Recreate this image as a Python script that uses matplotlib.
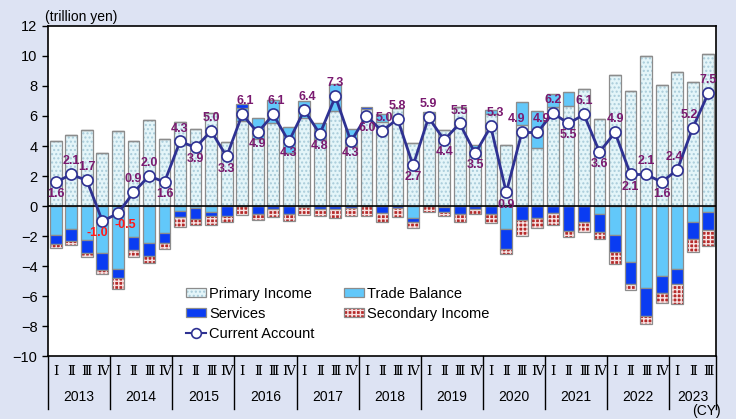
import numpy as np
import matplotlib
matplotlib.use("Agg")
import matplotlib.pyplot as plt
from matplotlib.patches import Patch
from matplotlib.lines import Line2D
from matplotlib.legend_handler import HandlerTuple
import matplotlib.transforms as mtransforms

plt.rcParams['font.family'] = ['Liberation Sans', 'DejaVu Sans']

years = ['2013', '2014', '2015', '2016', '2017', '2018', '2019', '2020', '2021', '2022', '2023']
quarters = ['Ⅰ', 'Ⅱ', 'Ⅲ', 'Ⅳ']
quarters_per_year = [4, 4, 4, 4, 4, 4, 4, 4, 4, 4, 3]

primary_income = [4.35, 4.71, 5.08, 3.51,
                  4.98, 4.30, 5.73, 4.45,
                  5.62, 5.13, 6.20, 4.28,
                  5.67, 4.45, 5.56, 3.56,
                  5.89, 4.45, 6.34, 4.00,
                  6.44, 5.60, 6.55, 4.18,
                  6.10, 5.06, 6.60, 3.73,
                  6.11, 4.06, 5.40, 3.84,
                  6.62, 6.66, 7.78, 5.78,
                  8.73, 7.69, 10.02, 8.09,
                  8.91, 8.24, 10.13]
trade_balance = [-1.93, -1.56, -2.29, -3.16,
                 -4.22, -2.09, -2.47, -1.78,
                 -0.36, -0.15, -0.42, 0.00,
                 0.89, 1.44, 1.51, 1.73,
                 1.11, 1.11, 1.78, 1.11,
                 0.00, 0.50, 0.00, -0.82,
                 0.15, -0.10, 0.00, 0.33,
                 0.29, -1.56, 1.50, 2.49,
                 0.85, 0.96, 0.00, -0.53,
                 -1.93, -3.76, -5.49, -4.67,
                 -4.22, -1.09, -0.38]
services = [-0.60, -0.75, -0.87, -1.11,
            -0.60, -0.87, -0.86, -0.67,
            -0.35, -0.69, -0.25, -0.64,
            0.22, -0.55, -0.20, -0.56,
            -0.05, -0.22, -0.22, -0.16,
            0.18, -0.49, -0.15, -0.27,
            -0.02, -0.27, -0.55, -0.22,
            -0.56, -1.33, -0.93, -0.82,
            -0.49, -1.65, -1.09, -1.18,
            -1.16, -1.47, -1.82, -1.11,
            -1.00, -1.11, -1.22]
secondary_income = [-0.27, -0.29, -0.22, -0.26,
                    -0.69, -0.46, -0.49, -0.42,
                    -0.67, -0.43, -0.57, -0.43,
                    -0.62, -0.40, -0.55, -0.44,
                    -0.56, -0.44, -0.56, -0.51,
                    -0.67, -0.58, -0.60, -0.40,
                    -0.38, -0.29, -0.50, -0.29,
                    -0.56, -0.31, -1.07, -0.67,
                    -0.78, -0.44, -0.62, -0.51,
                    -0.78, -0.38, -0.58, -0.71,
                    -1.31, -0.89, -1.04]
current_account = [1.6, 2.1, 1.7, -1.0,
                   -0.5, 0.9, 2.0, 1.6,
                   4.3, 3.9, 5.0, 3.3,
                   6.1, 4.9, 6.1, 4.3,
                   6.4, 4.8, 7.3, 4.3,
                   6.0, 5.0, 5.8, 2.7,
                   5.9, 4.4, 5.5, 3.5,
                   5.3, 0.9, 4.9, 4.9,
                   6.2, 5.5, 6.1, 3.6,
                   4.9, 2.1, 2.1, 1.6,
                   2.4, 5.2, 7.5]

# label placement (style): 'a' above, 'b' below, plus horizontal nudges in pixels
label_side = ['b', 'a', 'a', 'b',
              'b', 'a', 'a', 'b',
              'a', 'b', 'a', 'b',
              'a', 'b', 'a', 'b',
              'a', 'b', 'a', 'b',
              'b', 'a', 'a', 'b',
              'a', 'b', 'a', 'b',
              'a', 'b', 'a', 'a',
              'a', 'b', 'a', 'b',
              'a', 'b', 'a', 'b',
              'a', 'a', 'a']
label_dx = {3: -5, 4: 7, 12: 3, 14: 3, 16: 3, 20: 1, 21: 2, 28: 5, 30: -5, 31: 4, 40: -3, 41: -3}

W, H = 736, 419
fig = plt.figure(figsize=(W / 100, H / 100), dpi=100)
fig.patch.set_facecolor('#DDE3F3')
ax = fig.add_axes([48 / W, 1 - 356 / H, (716 - 48) / W, (356 - 26) / H])
ax.set_facecolor('white')

n = len(primary_income)
x = np.arange(n)
prim = np.array(primary_income)
tr = np.array(trade_balance)
sv = np.array(services)
sc = np.array(secondary_income)

bw = 0.76
edge = '#8C8C8C'

prim_face, prim_hatch = '#E4F5F9', '#A9CCDA'
trade_face = '#62C8FA'
serv_face = '#0A3CF2'
sec_face, sec_hatch = '#B52A2A', '#F7E2E2'


def draw(bottom, height, face, hatch=None, hcolor=None):
    if hatch:
        ax.bar(x, height, bw, bottom=bottom, color=face, edgecolor=hcolor,
               hatch=hatch, linewidth=0, zorder=2)
        ax.bar(x, height, bw, bottom=bottom, fill=False, edgecolor=edge,
               linewidth=0.9, zorder=2.1)
    else:
        ax.bar(x, height, bw, bottom=bottom, color=face, edgecolor=edge,
               linewidth=0.9, zorder=2)


tr_pos = np.clip(tr, 0, None)
tr_neg = np.clip(tr, None, 0)
sv_pos = np.clip(sv, 0, None)
sv_neg = np.clip(sv, None, 0)

draw(0, prim, prim_face, '....', prim_hatch)
draw(prim, tr_pos, trade_face)
draw(prim + tr_pos, sv_pos, serv_face)
draw(0, tr_neg, trade_face)
draw(tr_neg, sv_neg, serv_face)
draw(tr_neg + sv_neg, sc, sec_face, '++++', sec_hatch)

ax.axhline(0, color='black', lw=1.2, zorder=3)

line_col = '#2E3192'
ax.plot(x, current_account, color=line_col, lw=2, marker='o', ms=8,
        mfc='white', mec=line_col, mew=1.2, zorder=4)

for i, (xi, v, side) in enumerate(zip(x, current_account, label_side)):
    col = '#FF1A1A' if v < 0 else '#7A1A70'
    dy = 13 if side == 'a' else -12
    ax.annotate(f'{v:.1f}', (xi, v), xytext=(label_dx.get(i, 0), dy),
                textcoords='offset pixels', ha='center', va='center',
                fontsize=9, fontweight='bold', color=col, zorder=5)

ax.set_xlim(-0.5, n - 0.5)
ax.set_ylim(-10, 12)
ax.set_yticks(np.arange(-10, 13, 2))
ax.tick_params(axis='y', labelsize=10.5, length=4, direction='out', width=1)
ax.set_xticks([])
for s in ax.spines.values():
    s.set_linewidth(1.2)
    s.set_color('black')

# category axis
trans = mtransforms.blended_transform_factory(ax.transData, ax.transAxes)
axh = 356 - 26
qy = -(371 - 356) / axh
yy = -(397 - 356) / axh
ly = -(409 - 356) / axh
idx = 0
edges = [-0.5]
for yr, nq in zip(years, quarters_per_year):
    for q in range(nq):
        ax.text(idx + q, qy, quarters[q], transform=trans, ha='center', va='center',
                fontsize=9.5, family=['DejaVu Serif', 'Noto Sans CJK JP'], clip_on=False)
    ax.text(idx + (nq - 1) / 2, yy, yr, transform=trans, ha='center', va='center',
            fontsize=10, clip_on=False)
    idx += nq
    edges.append(idx - 0.5)
for e in edges:
    ax.add_line(Line2D([e, e], [0, ly], transform=trans, color='black', lw=1,
                       clip_on=False))

fig.text(45 / W, 1 - 17 / H, '(trillion yen)', fontsize=10, ha='left', va='center')
fig.text(706 / W, 1 - 411 / H, '(CY)', fontsize=10, ha='center', va='center')

# legend
h_prim = (Patch(facecolor=prim_face, edgecolor=prim_hatch, hatch='....', lw=0),
          Patch(fill=False, edgecolor=edge, lw=0.9))
h_trade = Patch(facecolor=trade_face, edgecolor=edge, lw=0.9)
h_serv = Patch(facecolor=serv_face, edgecolor=edge, lw=0.9)
h_sec = (Patch(facecolor=sec_face, edgecolor=sec_hatch, hatch='++++', lw=0),
         Patch(fill=False, edgecolor=edge, lw=0.9))
h_ca = Line2D([], [], color=line_col, lw=1.5, marker='o', ms=7, mfc='white',
              mec=line_col, mew=1.2)
handles = [h_prim, h_serv, h_ca, h_trade, h_sec]
labels = ['Primary Income', 'Services', 'Current Account', 'Trade Balance',
          'Secondary Income']
fig.legend(handles, labels, ncol=2, loc='upper left',
           bbox_to_anchor=(186 / W, 1 - 287 / H), frameon=False, fontsize=10.5,
           handlelength=1.4, handleheight=0.6, handletextpad=0.2,
           columnspacing=2.0, labelspacing=0.4, borderpad=0, borderaxespad=0,
           handler_map={tuple: HandlerTuple(ndivide=1, pad=0)})

fig.savefig('out.png', dpi=100, facecolor=fig.get_facecolor())
